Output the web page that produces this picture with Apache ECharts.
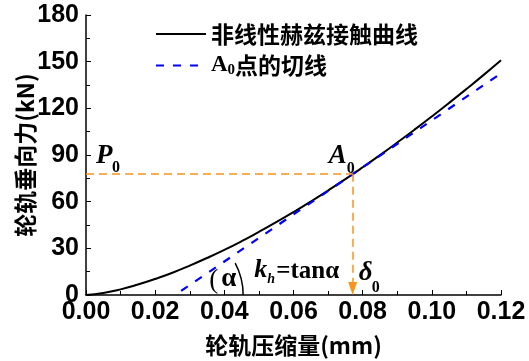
<!DOCTYPE html>
<html><head><meta charset="utf-8">
<script src="https://cdn.jsdelivr.net/npm/echarts@6/dist/echarts.min.js"></script>
<style>html,body{margin:0;padding:0;background:#fff}#c{width:529px;height:361px}</style>
</head><body><div id="c"></div>
<script>
// Hertz contact curve
const deltaMM = [0, 0.005, 0.01, 0.015, 0.02, 0.025, 0.03, 0.035, 0.04, 0.045, 0.05, 0.055, 0.06, 0.065, 0.07, 0.075, 0.08, 0.085, 0.09, 0.095, 0.1, 0.105, 0.11, 0.115, 0.12];
const forceKN = [0, 1.3, 3.6, 6.7, 10.3, 14.3, 18.9, 23.8, 29.0, 34.6, 40.6, 46.8, 53.3, 60.1, 67.2, 74.5, 82.1, 89.9, 98.0, 106.3, 114.8, 123.5, 132.4, 141.5, 150.9];
// tangent line at A0
const tangentX = [0.0275, 0.12];
const tangentY = [2.6, 142.5];
// point A0
const delta0 = 0.0771;
const P0 = 78;
const arrowTipY = 4.2;
const seriesNames = ['非线性赫兹接触曲线', 'A0点的切线'];

const chart = echarts.init(document.getElementById('c'));
const NUMF = 'Liberation Sans, Arial, sans-serif';
const CJKF = 'Noto Sans CJK SC, sans-serif';
const SERIF = 'Liberation Serif, Times New Roman, serif';
const orange = '#f7941d';

chart.setOption({
  animation: false,
  backgroundColor: '#fff',
  grid: {left: 86, right: 28, top: 15, bottom: 66, containLabel: false, outerBoundsMode: 'none'},
  legend: {
    left: 150, top: 17, orient: 'vertical', itemWidth: 50, itemHeight: 14, itemGap: 7,
    data: seriesNames,
    itemStyle: {color: 'rgba(0,0,0,0)', borderWidth: 0, opacity: 0},
    textStyle: {fontFamily: CJKF, fontWeight: 'bold', fontSize: 23, color: '#000', lineHeight: 24,
      rich: {
        a: {fontFamily: SERIF, fontWeight: 'bold', fontSize: 23, color: '#000', lineHeight: 24},
        s: {fontFamily: SERIF, fontWeight: 'bold', fontSize: 15, color: '#000', lineHeight: 24, padding: [10,0,0,0]},
        t: {fontFamily: CJKF, fontWeight: 'bold', fontSize: 23, color: '#000', lineHeight: 24}
      }},
    formatter: function (n) { return n === seriesNames[1] ? '{a|A}{s|0}{t|点的切线}' : n; }
  },
  xAxis: {
    type: 'value', min: 0, max: 0.12, interval: 0.02,
    name: '轮轨压缩量(mm)', nameLocation: 'middle', nameGap: 39, nameMoveOverlap: false,
    nameTextStyle: {fontFamily: CJKF, fontWeight: 'bold', fontSize: 23, color: '#000'},
    axisLine: {lineStyle: {color: '#000', width: 1.5}},
    axisTick: {inside: true, length: 5, lineStyle: {color: '#000', width: 1}},
    minorTick: {show: true, splitNumber: 2, length: 4, lineStyle: {color: '#000', width: 1}},
    axisLabel: {margin: 5, fontFamily: NUMF, fontWeight: 'bold', fontSize: 25, color: '#000',
      formatter: v => v.toFixed(2)},
    splitLine: {show: false}
  },
  yAxis: {
    type: 'value', min: 0, max: 180, interval: 30,
    name: '轮轨垂向力(kN)', nameLocation: 'middle', nameGap: 49, nameRotate: 90, nameMoveOverlap: false,
    nameTextStyle: {fontFamily: CJKF, fontWeight: 'bold', fontSize: 23, color: '#000'},
    axisLine: {show: true, lineStyle: {color: '#000', width: 1.5}},
    axisTick: {show: true, inside: true, length: 5, lineStyle: {color: '#000', width: 1}},
    minorTick: {show: true, splitNumber: 2, length: 4, lineStyle: {color: '#000', width: 1}},
    axisLabel: {margin: 7, fontFamily: NUMF, fontWeight: 'bold', fontSize: 25, color: '#000'},
    splitLine: {show: false}
  },
  series: [
    {
      name: seriesNames[0], type: 'line', symbol: 'none', smooth: true, z: 3,
      lineStyle: {color: '#000', width: 2}, itemStyle: {color: '#000'},
      data: deltaMM.map((d, i) => [d, forceKN[i]]),
      markLine: {
        silent: true, symbol: ['none', 'none'], label: {show: false},
        lineStyle: {color: orange, type: [8, 5], width: 1.5},
        data: [
          [{coord: [0, P0]}, {coord: [delta0, P0]}],
          [{coord: [delta0, P0]}, {coord: [delta0, arrowTipY], symbol: 'triangle', symbolSize: [9, 13]}]
        ]
      }
    },
    {
      name: seriesNames[1], type: 'line', symbol: 'none', z: 4,
      lineStyle: {color: '#0000ff', width: 2.2, type: [8, 9]}, itemStyle: {color: '#0000ff'},
      data: tangentX.map((d, i) => [d, tangentY[i]])
    }
  ]
});

// annotations positioned from data coordinates
const px = p => chart.convertToPixel({gridIndex: 0}, p);
const slope = (tangentY[1] - tangentY[0]) / (tangentX[1] - tangentX[0]);
const interceptX = tangentX[0] - tangentY[0] / slope;
const pP = px([0, P0]);
const pA = px([delta0, P0]);
const pD = px([delta0, 0]);
const pI = px([interceptX, 0]);
function txt(x, y, s, font) {
  return {type: 'text', x: x, y: y, z: 100, style: {text: s, font: font, fill: '#000', textAlign: 'left', textVerticalAlign: 'middle'}};
}
const IB = 'italic bold ';
chart.setOption({
  graphic: [
    txt(pP[0] + 10, pP[1] - 18, 'P', IB + '27px ' + SERIF),
    txt(pP[0] + 26, pP[1] - 6, '0', 'bold 16px ' + SERIF),
    txt(pA[0] - 24, pA[1] - 18, 'A', IB + '27px ' + SERIF),
    txt(pA[0] - 6, pA[1] - 5, '0', 'bold 16px ' + SERIF),
    txt(pD[0] + 6, pD[1] - 22, 'δ', IB + '27px ' + SERIF),
    txt(pD[0] + 19, pD[1] - 7, '0', 'bold 16px ' + SERIF),
    txt(pI[0] + 79, pI[1] - 25, 'k', IB + '26px ' + SERIF),
    txt(pI[0] + 92, pI[1] - 16, 'h', IB + '14px ' + SERIF),
    txt(pI[0] + 101, pI[1] - 23, '=tanα', 'bold 25px ' + SERIF),
    txt(pI[0] + 34, pI[1] - 14, '(', '27px ' + SERIF),
    txt(pI[0] + 46, pI[1] - 16, 'α', 'bold 27px ' + SERIF),
    {type: 'arc', z: 100, shape: {cx: pI[0], cy: pI[1], r: 68, startAngle: -28 * Math.PI / 180, endAngle: 0, clockwise: true},
      style: {stroke: '#000', lineWidth: 1.5, fill: null}}
  ]
});
</script>
</body></html>
